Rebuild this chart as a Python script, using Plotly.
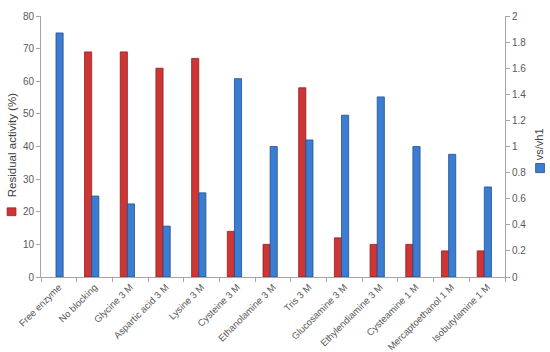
import plotly.graph_objects as go

categories = ["Free enzyme", "No blocking", "Glycine 3 M", "Aspartic acid 3 M", "Lysine 3 M",
              "Cysteine 3 M", "Ethanolamine 3 M", "Tris 3 M", "Glucosamine 3 M",
              "Ethylendiamine 3 M", "Cysteamine 1 M", "Mercaptoethanol 1 M", "Isobutylamine 1 M"]
residual_activity = [None, 69, 69, 64, 67, 14, 10, 58, 12, 10, 10, 8, 8]
vs_vh1 = [1.87, 0.62, 0.56, 0.39, 0.645, 1.52, 1.0, 1.05, 1.24, 1.38, 1.0, 0.94, 0.69]

RED = "#CD3634"
BLUE = "#3B7DD0"
font = dict(family="Liberation Sans, Arial, sans-serif", size=10, color="#595959")

fig = go.Figure()
fig.add_trace(go.Bar(x=categories, y=residual_activity, name="Residual activity (%)",
                     marker=dict(color=RED, line=dict(color="#8E1F20", width=0.8)),
                     width=0.2, offset=-0.28, yaxis="y"))
fig.add_trace(go.Bar(x=categories, y=vs_vh1, name="vs/vh1",
                     marker=dict(color=BLUE, line=dict(color="#1F4F8F", width=0.8)),
                     width=0.2, offset=-0.08, yaxis="y2"))

fig.update_layout(
    width=550, height=352,
    margin=dict(l=41, r=45, t=16, b=75),
    paper_bgcolor="white", plot_bgcolor="white",
    showlegend=False,
    font=font,
    xaxis=dict(showline=True, linecolor="#A6A6A6", linewidth=1, ticks="outside",
               tickson="boundaries", ticklen=4, tickcolor="#A6A6A6", tickangle=-45,
               showgrid=False, tickfont=dict(size=9.5), automargin=False),
    yaxis=dict(range=[0, 80], dtick=10, showline=True, linecolor="#A6A6A6", ticks="outside",
               ticklen=4, tickcolor="#A6A6A6", showgrid=False, zeroline=False, automargin=False),
    yaxis2=dict(range=[0, 2], dtick=0.2, overlaying="y", side="right", showline=True,
                linecolor="#A6A6A6", ticks="outside", ticklen=4, tickcolor="#A6A6A6",
                showgrid=False, zeroline=False, automargin=False),
)

# Axis titles with legend keys
fig.add_annotation(text="Residual activity (%)", textangle=-90, xref="paper", yref="paper",
                   x=-0.0625, y=0.505, xanchor="center", yanchor="middle", showarrow=False,
                   font=dict(size=11.5, color="#404040"))
fig.add_shape(type="rect", xref="paper", yref="paper", x0=-0.073, x1=-0.054,
              y0=0.235, y1=0.265, fillcolor=RED, line=dict(color="#8E1F20", width=0.8))
fig.add_annotation(text="vs/vh1", textangle=-90, xref="paper", yref="paper",
                   x=1.074, y=0.51, xanchor="center", yanchor="middle", showarrow=False,
                   font=dict(size=11, color="#404040"))
fig.add_shape(type="rect", xref="paper", yref="paper", x0=1.066, x1=1.085,
              y0=0.40, y1=0.435, fillcolor=BLUE, line=dict(color="#1F4F8F", width=0.8))

fig.write_html("out.html", config={"displayModeBar": False},
               post_script="document.body.style.margin='0px';document.body.style.overflow='hidden';")
